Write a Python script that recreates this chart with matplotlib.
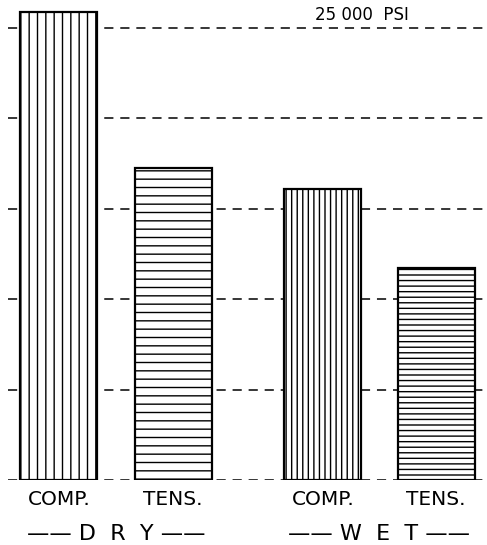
import matplotlib
matplotlib.use("Agg")
import matplotlib.pyplot as plt

# ---- data ----
categories = ["COMP.", "TENS.", "COMP.", "TENS."]
groups = ["D  R  Y", "W  E  T"]
strength_psi = [25900, 17250, 16100, 11700]
grid_values = [0, 5000, 10000, 15000, 20000, 25000]
top_label = "25 000  PSI"

# ---- layout / style ----
positions = [0, 1, 2.31, 3.3]
hatches = ["||", "--", "|||", "---"]
bar_width = 0.674

plt.rcParams["hatch.linewidth"] = 1.0
plt.rcParams["font.family"] = ["DejaVu Sans"]

fig = plt.figure(figsize=(4.87, 5.45), dpi=100)
ax = fig.add_axes([8 / 487, 65 / 545, 1 - 8 / 487, 1 - 65 / 545])

for g in grid_values:
    ax.axhline(g, color="black", lw=1.1, dashes=(6, 4.5), zorder=0)

for x, v, h in zip(positions, strength_psi, hatches):
    ax.bar(x, v, width=bar_width, facecolor="white", edgecolor="black",
           linewidth=1.6, hatch=h, zorder=2)

ax.set_xlim(-0.446, 3.746)
ax.set_ylim(0, 26550)
for s in ax.spines.values():
    s.set_visible(False)
ax.set_yticks([])
ax.set_xticks(positions)
ax.set_xticklabels(categories, fontsize=14.5)
ax.tick_params(axis="x", length=0, pad=7)

group_centers = [(positions[0] + positions[1]) / 2, (positions[2] + positions[3]) / 2]
for c, gname in zip(group_centers, groups):
    ax.annotate("\u2014\u2014 " + gname + " \u2014\u2014", xy=(c, 0),
                xycoords=("data", "axes fraction"), xytext=(0, -39),
                textcoords="offset points", ha="center", va="center",
                fontsize=16)

ax.annotate(top_label, xy=(2.65, 25000), xycoords="data", xytext=(0, 9.5),
            textcoords="offset points", ha="center", va="center", fontsize=12,
            zorder=3)

fig.savefig("out.png", dpi=100)
